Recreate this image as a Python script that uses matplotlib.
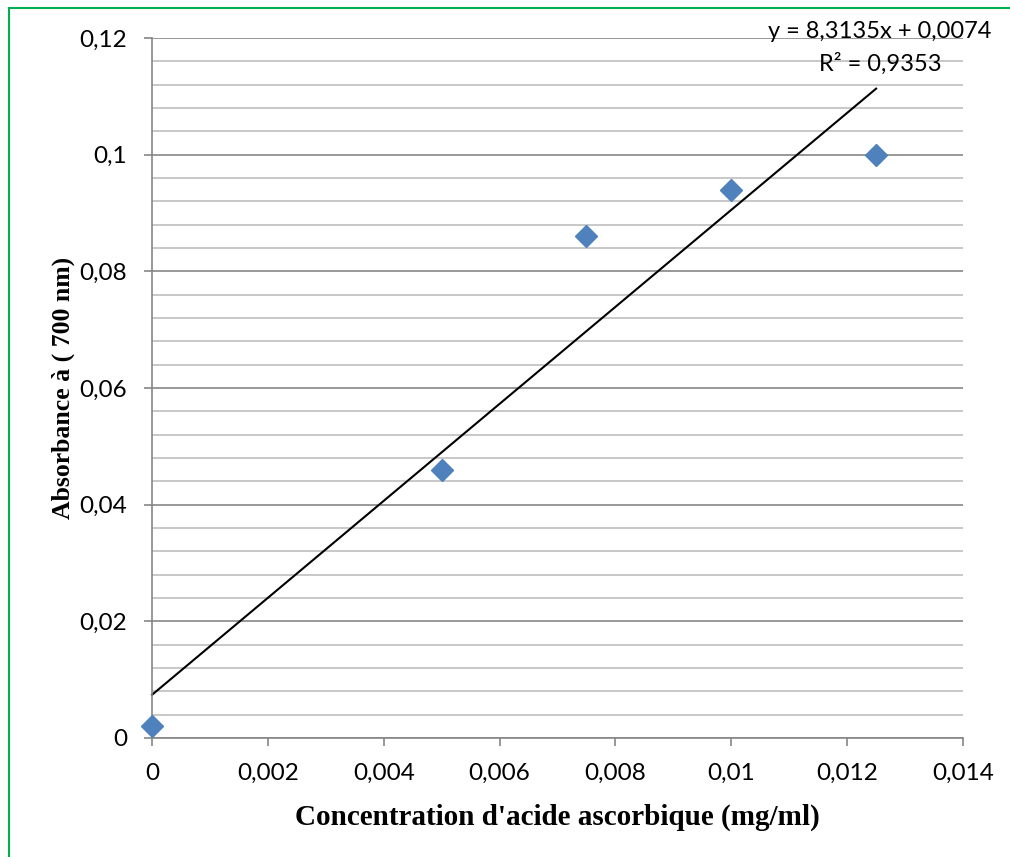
import numpy as np
import matplotlib
matplotlib.use('Agg')
import matplotlib.pyplot as plt
from matplotlib.patches import Rectangle
from matplotlib.ticker import MultipleLocator, FuncFormatter

# data
conc = [0, 0.005, 0.0075, 0.01, 0.0125]
absorb = [0.002, 0.046, 0.086, 0.094, 0.1]
slope = 8.3135
intercept = 0.0074
eq_text = 'y = 8,3135x + 0,0074'
r2_text = 'R² = 0,9353'

W, H = 1010, 857
fig = plt.figure(figsize=(W/100, H/100), dpi=100)
ax = fig.add_axes([152/W, 1-738/H, (963-152)/W, (738-38)/H])

# green frame round the chart
fig.patches.append(Rectangle((9/W, -0.5), 1.5, 1.5 - 8/H, transform=fig.transFigure,
                             fill=False, edgecolor='#00B050', lw=1.5))

ax.set_xlim(0, 0.014)
ax.set_ylim(0, 0.12)
ax.yaxis.set_major_locator(MultipleLocator(0.02))
ax.yaxis.set_minor_locator(MultipleLocator(0.004))
ax.xaxis.set_major_locator(MultipleLocator(0.002))

ax.grid(which='major', axis='y', color='#868686', lw=1.2)
ax.grid(which='minor', axis='y', color='#BFBFBF', lw=1.2)
ax.set_axisbelow(True)

for s in ['top', 'right']:
    ax.spines[s].set_visible(False)
ax.spines['left'].set_color('#868686')
ax.spines['bottom'].set_color('#868686')
ax.spines['left'].set_linewidth(1.2)
ax.spines['bottom'].set_linewidth(1.2)

ax.tick_params(which='major', direction='out', length=6, color='#868686', width=1.2,
               labelsize=17.5)
ax.tick_params(which='minor', length=0)
ax.tick_params(axis='y', pad=12)
ax.tick_params(axis='x', pad=12)

def fmt(v, pos):
    if abs(v) < 1e-12:
        return '0'
    s = ('%.3f' % v).rstrip('0').rstrip('.')
    return s.replace('.', ',')

ax.xaxis.set_major_formatter(FuncFormatter(fmt))
ax.yaxis.set_major_formatter(FuncFormatter(fmt))
for lab in ax.get_xticklabels() + ax.get_yticklabels():
    lab.set_family(['Lato', 'DejaVu Sans'])

xs = np.array([0, conc[-1]])
ax.plot(xs, slope*xs + intercept, color='black', lw=1.5, clip_on=False)
ax.plot(conc, absorb, 'D', color='#4F81BD', ms=11, mec='#4F81BD', clip_on=False, zorder=5)

ax.set_xlabel("Concentration d'acide ascorbique (mg/ml)", family='Liberation Serif',
              fontweight='bold', fontsize=21, labelpad=14)
ax.set_ylabel('Absorbance à ( 700 nm)', family='Liberation Serif',
              fontweight='bold', fontsize=18.5, labelpad=3)

fig.text(880/W, 1-31/H, eq_text, ha='center', va='center', fontsize=17, family='Lato')
fig.text(880/W, 1-64/H, r2_text, ha='center', va='center', fontsize=17, family='Lato')

fig.savefig('out.png', dpi=100)
